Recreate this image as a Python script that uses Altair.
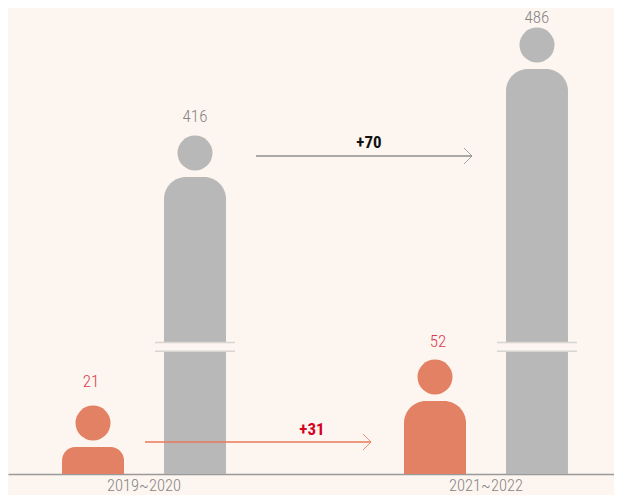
import altair as alt
import pandas as pd

periods = ["2019~2020", "2019~2020", "2021~2022", "2021~2022"]
series = ["a", "b", "a", "b"]
values = [21, 416, 52, 486]

break_period = ["2019~2020", "2021~2022"]
break_series = ["b", "b"]
break_low = [133, 133]
break_high = [147, 147]

BG = "#fdf5f0"
ORANGE = "#e28163"
GRAY = "#b8b8b8"
RED = "#d93a50"
LABEL = "#858585"
FONT = "Roboto Condensed, Roboto"

df = pd.DataFrame({"period": periods, "series": series, "value": values})
brk = pd.DataFrame({"period": break_period, "series": break_series,
                    "low": break_low, "high": break_high})
one = pd.DataFrame({"k": [1]})

x = alt.X("period:N", title=None,
          scale=alt.Scale(paddingInner=0.4, paddingOuter=0.086, align=0.568),
          axis=alt.Axis(labelAngle=0, ticks=False, labelPadding=3, labelFontSize=16.5,
                        labelFont=FONT, labelFontWeight=300, labelColor=LABEL,
                        domainColor="#9a9a9a", domainWidth=1.5, grid=False))
xo = alt.XOffset("series:N", scale=alt.Scale(paddingInner=0.392, paddingOuter=0.202))
yscale = alt.Scale(domain=[0, 21, 52, 416, 486], range=[466, 439, 393, 169, 61])
y = alt.Y("value:Q", title=None, scale=yscale, axis=None)
color = alt.Color("series:N", legend=None, scale=alt.Scale(domain=["a", "b"], range=[ORANGE, GRAY]))

base = alt.Chart(df).encode(x=x, xOffset=xo)
bars = base.mark_bar(size=62, cornerRadiusTopLeft=22, cornerRadiusTopRight=22).encode(y=y, color=color)
heads = base.mark_circle(size=1225, opacity=1, yOffset=-24).encode(y=y, color=color)

label_layers = []
for val, gap, shift, col in [(21, -65, -2, RED), (52, -59, 3, RED), (416, -60, 0, LABEL), (486, -51, 0, LABEL)]:
    label_layers.append(
        base.transform_filter(alt.datum.value == val)
        .mark_text(fontSize=17, font=FONT, fontWeight=300, color=col, dy=gap, dx=shift, baseline="middle")
        .encode(y=y, text="value:Q")
    )

bbase = alt.Chart(brk).encode(x=alt.X("period:N"), xOffset=alt.XOffset("series:N"))
strip = bbase.mark_bar(size=80, color=BG).encode(y=alt.Y("low:Q", scale=yscale, axis=None), y2="high:Q")
tick1 = bbase.mark_tick(size=80, thickness=1.5, color="#d8d5d1", opacity=1).encode(y=alt.Y("low:Q", scale=yscale, axis=None))
tick2 = bbase.mark_tick(size=80, thickness=1.5, color="#d8d5d1", opacity=1).encode(y=alt.Y("high:Q", scale=yscale, axis=None))


def arrow(x0, x1, yy, col):
    line = alt.Chart(one).mark_rule(color=col, strokeWidth=1.4).encode(
        x=alt.value(x0), x2=alt.value(x1), y=alt.value(yy))
    head = alt.Chart(one).mark_point(shape="M-1,-1L0,0L-1,1", size=256, filled=False,
                                     color=col, strokeWidth=0.8, opacity=1).encode(
        x=alt.value(x1), y=alt.value(yy))
    return [line, head]


def note(txt, xx, yy, col):
    return alt.Chart(one).mark_text(text=txt, font=FONT, fontSize=17, fontWeight="bold", color=col).encode(
        x=alt.value(xx), y=alt.value(yy))


layers = [bars, heads, strip, tick1, tick2] + label_layers
layers += arrow(248, 464, 148, "#8f8f8f") + arrow(137, 363, 434, "#e9795b")
layers += [note("+70", 361, 135, "#111111"), note("+31", 304, 422, "#d4001f")]

chart = (
    alt.layer(*layers)
    .resolve_scale(color="shared")
    .properties(width=606, height=466, background=BG,
                autosize=alt.AutoSizeParams(type="none"),
                padding={"left": 0, "top": 0, "right": 0, "bottom": 21})
    .configure_view(stroke=None)
)
chart.save("out.html", embed_options={"renderer": "svg", "actions": False})
